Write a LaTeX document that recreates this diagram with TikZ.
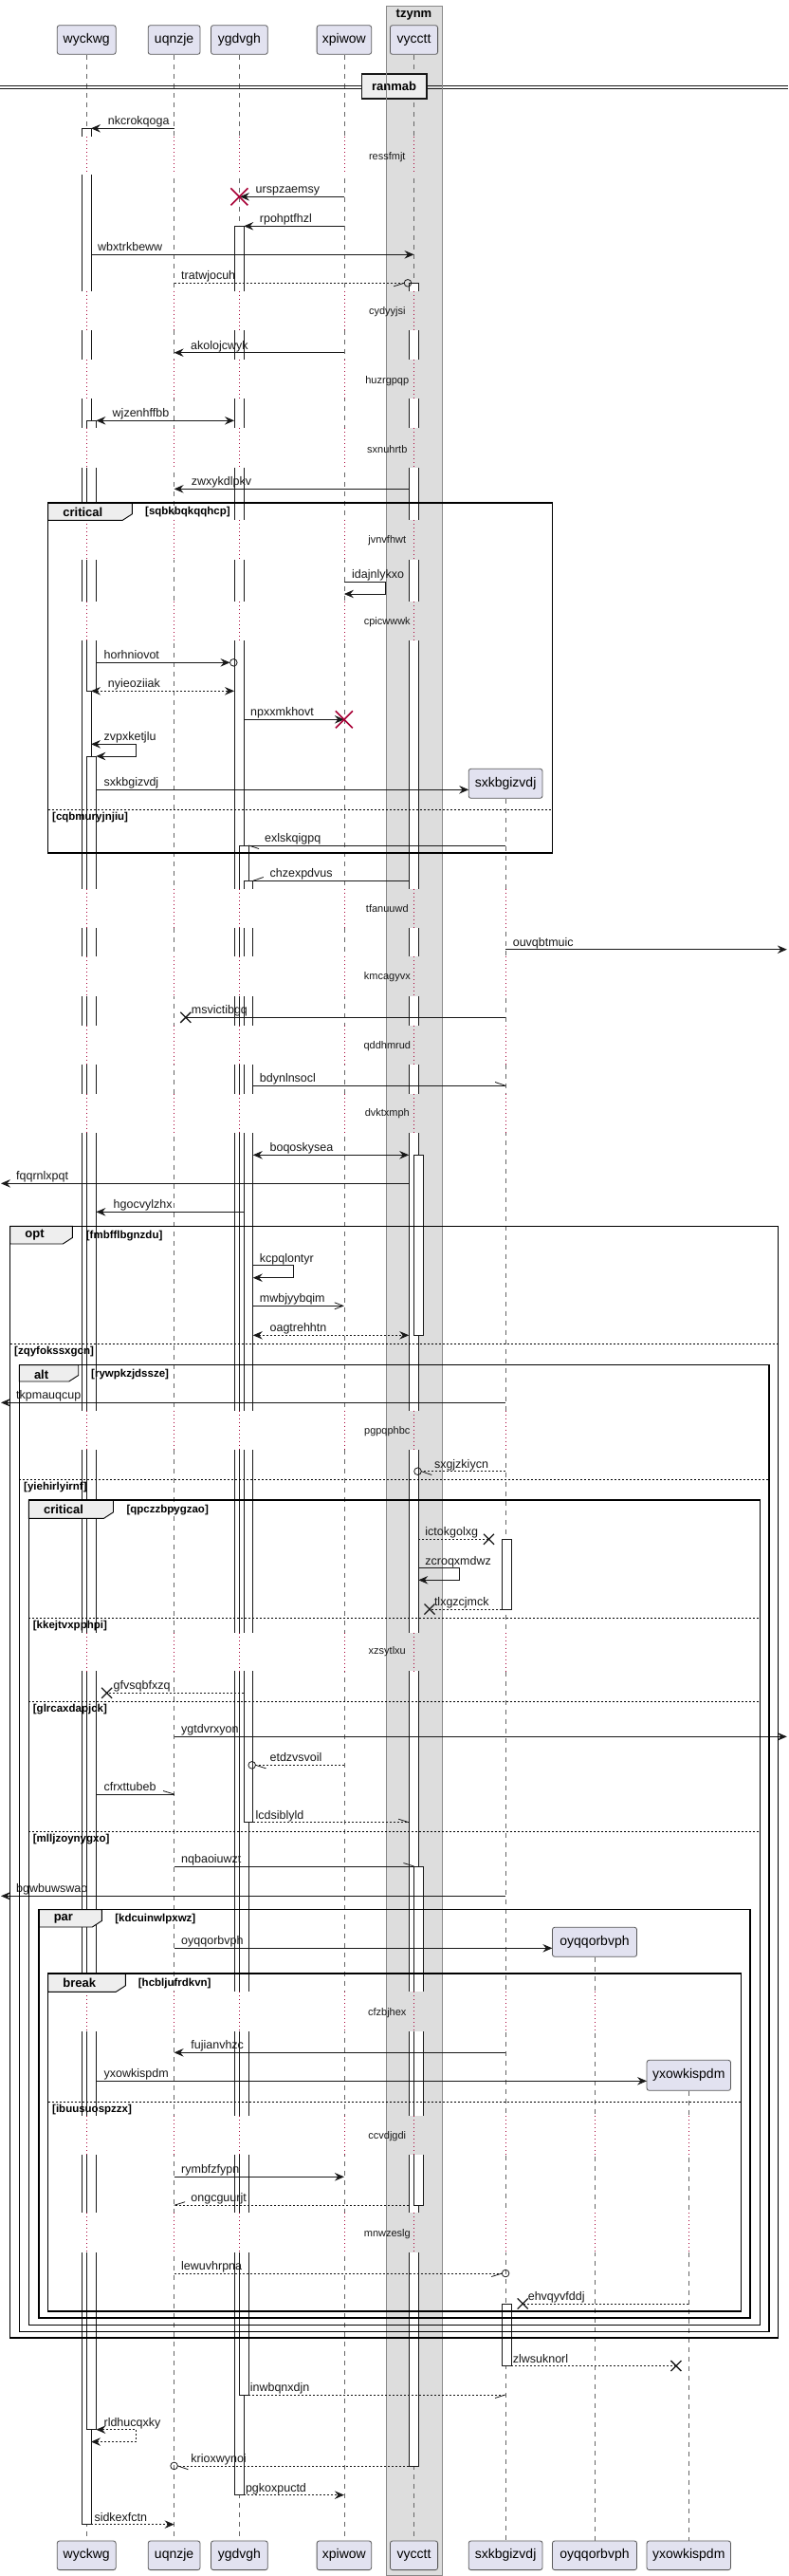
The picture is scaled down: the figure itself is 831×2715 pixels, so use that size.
\documentclass[tikz,border=0pt]{standalone}
\usepackage{fontspec}
\setmainfont{Liberation Sans}
\usetikzlibrary{arrows.meta}
\definecolor{partfill}{HTML}{E2E2F0}
\definecolor{partdraw}{HTML}{5A5A5A}
\definecolor{boxfill}{HTML}{DDDDDD}
\definecolor{boxdraw}{HTML}{888888}
\definecolor{ink}{HTML}{181818}
\definecolor{life}{HTML}{666666}
\definecolor{delayc}{HTML}{A80036}
\definecolor{tabfill}{HTML}{EEEEEE}
\tikzset{
 msgline/.style={draw=ink, line width=0.8pt},
 dmsg/.style={msgline, dash pattern=on 2pt off 2pt},
 tipF/.style={-{Stealth[length=10pt,width=8.5pt,inset=3.5pt]}},
 tipB/.style={{Stealth[length=10pt,width=8.5pt,inset=3.5pt]}-{Stealth[length=10pt,width=8.5pt,inset=3.5pt]}},
 tipO/.style={-{Straight Barb[length=9pt,width=7pt,line width=0.8pt]}},
 lbl/.style={anchor=base west, inner sep=0pt, font=\fontsize{12.5}{14}\selectfont, text=ink},
 dlbl/.style={anchor=center, inner sep=0pt, font=\fontsize{11}{13}\selectfont, text=ink},
 guard/.style={anchor=west, inner sep=0pt, font=\bfseries\fontsize{11.5}{13}\selectfont},
 flabel/.style={anchor=west, inner sep=0pt, font=\bfseries\fontsize{13}{15}\selectfont},
 part/.style={draw=partdraw, fill=partfill, rounded corners=2.5pt, line width=0.8pt, inner sep=0pt, font=\fontsize{14}{16}\selectfont},
 lifeln/.style={draw=life, line width=0.6pt, dash pattern=on 5pt off 5pt},
 dotln/.style={draw=delayc, line width=0.8pt, dash pattern=on 1pt off 3pt},
 actbox/.style={fill=white, draw=ink, line width=0.8pt},
 frameln/.style={draw=black, line width=1.4pt},
 elseln/.style={draw=black, line width=0.8pt, dash pattern=on 2pt off 2pt},
 killx/.style={draw=delayc, line width=1.6pt},
 lostx/.style={draw=ink, line width=1.3pt},
}
\newcommand{\sqm}[7]{%
  \coordinate (#1a) at (#2,#4);
  \coordinate (#1b) at (#3,#4);
  \draw[#5] (#1a) -- (#1b);
  \node[lbl] (#1t) at (#6,#4-3.5) {#7};}
\newcommand{\sqs}[9]{%
  \coordinate (#1a) at (#2,#4);
  \coordinate (#1b) at (#3,#5);
  \draw[#7] (#1a) -- (#6,#4) -- (#6,#5) -- (#1b);
  \node[lbl] (#1t) at (#8,#4-3.5) {#9};}
\newcommand{\killX}[3]{\coordinate (#1) at (#2,#3);
  \draw[killx] (#1) +(-9,-9) -- +(9,9) (#1) +(-9,9) -- +(9,-9);}
\newcommand{\lostX}[3]{\coordinate (#1) at (#2,#3);
  \draw[lostx] (#1) +(-5.5,-5.5) -- +(5.5,5.5) (#1) +(-5.5,5.5) -- +(5.5,-5.5);}
\newcommand{\sqcirc}[3]{\coordinate (#1) at (#2,#3);
  \draw[msgline] (#1) circle[radius=3.8pt];}
\newcommand{\sqframe}[8]{%
  \draw[line width=0.9pt, fill=tabfill] (#1,#2) -- (#5,#2) -- (#5,#6-6.5) -- (#5-10,#6) -- (#1,#6) -- cycle;
  \draw[frameln] (#1,#2) rectangle (#3,#4);
  \node[flabel] (#7) at (#1+15.5,#2+9.7) {#8};}
\begin{document}
\begin{tikzpicture}[x=1pt,y=-1pt]
\useasboundingbox (0,0) rectangle (831,2715);
\fill[white] (0,0) rectangle (831,2715);
% box tzynm
\fill[boxfill] (407.2,6) rectangle (465.9,2714.5);
\node[font=\bfseries\fontsize{13}{15}\selectfont, inner sep=0pt] (tzynm) at (436.5,15.5) {tzynm};
% participants
\foreach \n/\x/\w/\t in {W/91.2/61.9/wyckwg, U/183.6/54.9/uqnzje, Y/252.4/59.8/ygdvgh, X/362.9/57.6/xpiwow, V/436.5/50.2/vycctt}{
  \node[part, minimum width=\w pt, minimum height=30.6pt] (p\n) at (\x,42) {\t};
  \node[part, minimum width=\w pt, minimum height=30.6pt] (q\n) at (\x,2693.3) {\t};
}
\node[part, minimum width=77.9pt, minimum height=31pt] (pS) at (533.1,825.8) {sxkbgizvdj};
\node[part, minimum width=89.1pt, minimum height=31pt] (pO) at (627,2046.8) {oyqqorbvph};
\node[part, minimum width=88.5pt, minimum height=32pt] (pK) at (726.3,2187.3) {yxowkispdm};
\node[part, minimum width=77.9pt, minimum height=30.6pt] (qS) at (533.1,2693.3) {sxkbgizvdj};
\node[part, minimum width=89.1pt, minimum height=30.6pt] (qO) at (627,2693.3) {oyqqorbvph};
\node[part, minimum width=88.5pt, minimum height=30.6pt] (qK) at (726.3,2693.3) {yxowkispdm};
% lifelines
\foreach \n in {W,U,Y,X,V,S,O,K}{\draw[lifeln] (p\n) -- (q\n);}
% separator
\draw[ink, line width=0.9pt] (0,90) -- (831,90) (0,93) -- (831,93);
\node[draw=ink, line width=1.6pt, fill=tabfill, minimum width=68.3pt, minimum height=26pt, inner sep=0pt, font=\bfseries\fontsize{13}{15}\selectfont] (sepR) at (415.65,91) {ranmab};
% activations
\path[actbox] (85.9,135.3) rectangle (96,2660.6);
\path[actbox] (91.2,443.3) rectangle (101.4,728.3);
\path[actbox] (91.2,797) rectangle (101.4,2560.7);
\path[actbox] (247,238.3) rectangle (257.2,2629.6);
\path[actbox] (252.4,891) rectangle (262,2523.9);
\path[actbox] (257.2,928.3) rectangle (266.8,1920.7);
\path[actbox] (431.2,298.3) rectangle (441.3,2598.9);
\path[actbox] (436.5,1217.3) rectangle (446.1,1407.3);
\path[actbox] (436.5,1967) rectangle (446.1,2324.3);
\path[actbox] (529.4,1622.3) rectangle (539,1696);
\path[actbox] (529.4,2428) rectangle (539,2493.5);
% delays
\foreach \a/\b in {144/184,306.7/347.7,379.3/420,451/492.7,548.3/590,634.3/675,936.7/978.3,1008.3/1050,1080.7/1122,1152.7/1194.3,1486.7/1527.7,1720.7/1761,2099.3/2141,2230/2271,2332.3/2374.3}{
  \fill[white] (0,\a) rectangle (407.2,\b);
  \fill[white] (465.9,\a) rectangle (831,\b);
  \fill[boxfill] (407.2,\a) rectangle (465.9,\b);
  \foreach \x in {91.2,183.6,252.4,362.9,436.5}{\draw[dotln] (\x,\a) -- (\x,\b);}
}
\foreach \a/\b in {936.7/978.3,1008.3/1050,1080.7/1122,1152.7/1194.3,1486.7/1527.7,1720.7/1761,2099.3/2141,2230/2271,2332.3/2374.3}{\draw[dotln] (533.1,\a) -- (533.1,\b);}
\foreach \a/\b in {2099.3/2141,2230/2271,2332.3/2374.3}{\draw[dotln] (627,\a) -- (627,\b);}
\foreach \a/\b in {2230/2271,2332.3/2374.3}{\draw[dotln] (726.3,\a) -- (726.3,\b);}
\draw[boxdraw, line width=0.8pt] (407.2,6) rectangle (465.9,2714.5);
\foreach \y/\t in {165.7/ressfmjt,329/cydyyjsi,401.7/huzrgpqp,473.3/sxnuhrtb,570/jvnvfhwt,655.7/cpicwwwk,957.3/tfanuuwd,1030/kmcagyvx,1102.3/qddhmrud,1174/dvktxmph,1508.3/pgpqphbc,1741/xzsytlxu,2121.7/cfzbjhex,2251.7/ccvdjgdi,2354.3/mnwzeslg}{
  \node[dlbl] (d\t) at (408.3,\y) {\t};}
% messages
\sqm{m1}{183.6}{96}{135.3}{msgline,tipF}{113.7}{nkcrokqoga}
\sqm{m2}{362.9}{253}{207.3}{msgline,tipF}{269.5}{urspzaemsy}
\killX{k2}{252.4}{207.3}
\sqm{m3}{362.9}{257.2}{238.3}{msgline,tipF}{273.7}{rpohptfhzl}
\sqm{m4}{96}{436.5}{268.3}{msgline,tipF}{103}{wbxtrkbeww}
\sqm{m5}{183.6}{426.2}{298.3}{dmsg}{191}{tratwjocuh}
\draw[msgline] (m5b) -- ++(-11,3.5);
\sqcirc{c5}{430}{298.3}
\sqm{m6}{362.9}{183.6}{371.7}{msgline,tipF}{201}{akolojcwyk}
\sqm{m7}{101.4}{247}{443.3}{msgline,tipB}{118.5}{wjzenhffbb}
\sqm{m8}{431.2}{183.6}{515.3}{msgline,tipF}{201.7}{zwxykdlpkv}
\sqs{m9}{362.9}{362.9}{613.3}{626}{406}{msgline,tipF}{371}{idajnlykxo}
\sqm{m10}{101.4}{242.5}{698.3}{msgline,tipF}{109.4}{horhniovot}
\sqcirc{c10}{246.3}{698.3}
\sqm{m11}{96}{247}{728.3}{dmsg,tipB}{113.7}{nyieoziiak}
\sqm{m12}{257.2}{362.9}{758.3}{msgline,tipF}{264}{npxxmkhovt}
\killX{k12}{362.9}{758.3}
\sqs{m13}{96}{101.4}{784.3}{797}{143.5}{msgline,tipB}{109.4}{zvpxketjlu}
\sqm{m14}{101.4}{494.2}{832.3}{msgline,tipF}{109.4}{sxkbgizvdj}
\sqm{m15}{533.1}{262}{891}{msgline}{279}{exlskqigpq}
\draw[msgline] (m15b) -- ++(11,3.5);
\sqm{m16}{431.2}{266.8}{928.3}{msgline}{284.4}{chzexpdvus}
\draw[msgline] (m16b) -- ++(11,-3.8);
\sqm{m17}{533.1}{829.8}{1000.7}{msgline,tipF}{540.6}{ouvqbtmuic}
\sqm{m18}{533.1}{195.8}{1072.3}{msgline}{201.7}{msvictibgq}
\lostX{k18}{195.8}{1072.3}
\sqm{m19}{266.8}{533.1}{1144.3}{msgline}{273.7}{bdynlnsocl}
\draw[msgline] (m19b) -- ++(-11,-3.8);
\sqm{m20}{266.8}{431.2}{1217.3}{msgline,tipB}{284.4}{boqoskysea}
\sqm{m21}{431.2}{1}{1247.3}{msgline,tipF}{17}{fqqrnlxpqt}
\sqm{m22}{257.2}{101.4}{1277.3}{msgline,tipF}{119.5}{hgocvylzhx}
\sqs{m23}{266.8}{266.8}{1333.7}{1346.7}{309.5}{msgline,tipF}{273.7}{kcpqlontyr}
\sqm{m24}{266.8}{362.9}{1376.3}{msgline,tipO}{273.7}{mwbjyybqim}
\sqm{m25}{266.8}{431.2}{1407.3}{dmsg,tipB}{284.4}{oagtrehhtn}
\sqm{m26}{533.1}{1}{1478.3}{msgline,tipF}{17}{tkpmauqcup}
\sqm{m27}{533.1}{444.3}{1550.7}{dmsg}{457.8}{sxgjzkiycn}
\draw[msgline] (m27b) -- ++(11,3.8);
\sqcirc{c27}{440.5}{1550.7}
\sqm{m28}{441.3}{515.5}{1622.3}{dmsg}{448.2}{ictokgolxg}
\lostX{k28}{515.5}{1622.3}
\sqs{m29}{441.3}{441.3}{1652.7}{1665.3}{484}{msgline,tipF}{448.2}{zcroqxmdwz}
\sqm{m30}{529.4}{453}{1696}{dmsg}{457.8}{tlxgzcjmck}
\lostX{k30}{453}{1696}
\sqm{m31}{257.2}{112.6}{1784.3}{dmsg}{119.5}{gfvsqbfxzq}
\lostX{k31}{112.6}{1784.3}
\sqm{m32}{183.6}{829.8}{1830.3}{msgline,tipF}{191}{ygtdvrxyon}
\sqm{m33}{362.9}{269.5}{1860.3}{dmsg}{284.4}{etdzvsvoil}
\draw[msgline] (m33b) -- ++(11,3.5);
\sqcirc{c33}{265.7}{1860.3}
\sqm{m34}{101.4}{183.6}{1891}{msgline}{109.4}{cfrxttubeb}
\draw[msgline] (m34b) -- ++(-11.5,-3.5);
\sqm{m35}{266.8}{431.2}{1920.7}{dmsg}{269.5}{lcdsiblyld}
\draw[msgline] (m35b) -- ++(-11,-3.5);
\sqm{m36}{183.6}{436.5}{1967}{msgline}{191}{nqbaoiuwzt}
\draw[msgline] (m36b) -- ++(-11,-3.5);
\sqm{m37}{533.1}{1}{1998.3}{msgline,tipF}{17}{bgwbuwswao}
\sqm{m38}{183.6}{582.4}{2053.3}{msgline,tipF}{191}{oyqqorbvph}
\sqm{m39}{533.1}{183.6}{2163.3}{msgline,tipF}{201.2}{fujianvhzc}
\sqm{m40}{101.4}{682}{2193.3}{msgline,tipF}{109.4}{yxowkispdm}
\sqm{m41}{183.6}{362.9}{2294.3}{msgline,tipF}{191}{rymbfzfypn}
\sqm{m42}{431.2}{183.6}{2324.3}{dmsg}{201.2}{ongcguurjt}
\draw[msgline] (m42b) -- ++(11.5,-3.6);
\sqm{m43}{183.6}{529.3}{2396}{dmsg}{191}{lewuvhrpna}
\draw[msgline] (m43b) -- ++(-11,3.5);
\sqcirc{c43}{533.1}{2396}
\sqm{m44}{726.3}{551.2}{2428}{dmsg}{556.6}{ehvqyvfddj}
\lostX{k44}{551.2}{2428}
\sqm{m45}{539}{712.9}{2493.5}{dmsg}{540.6}{zlwsuknorl}
\lostX{k45}{712.9}{2493.5}
\sqm{m46}{262}{533.1}{2523.9}{dmsg}{263.6}{inwbqnxdjn}
\draw[msgline] (m46b) -- ++(-11,3.5);
\sqs{m47}{101.4}{96}{2560.7}{2573.5}{143.5}{dmsg,tipB}{109.4}{rldhucqxky}
\sqm{m48}{431.2}{187.4}{2598.9}{dmsg}{201.2}{krioxwynoi}
\draw[msgline] (m48b) -- ++(11,3.8);
\sqcirc{c48}{183.6}{2598.9}
\sqm{m49}{257.2}{362.9}{2629.6}{dmsg,tipF}{258.8}{pgkoxpuctd}
\sqm{m50}{96}{183.6}{2660.6}{dmsg,tipF}{99.3}{sidkexfctn}
% frames
\sqframe{50.7}{530}{582.2}{899}{139.3}{548.3}{fcrit1}{critical}
\node[guard] (g1) at (153,540) {[sqbkbqkqqhcp]};
\draw[elseln] (50.7,853.3) -- (582.2,853.3);
\node[guard] (g2) at (55,861.7) {[cqbmuryjnjiu]};
\sqframe{10.7}{1292.3}{820.7}{2464.1}{76.3}{1311}{fopt}{opt}
\node[guard] (g3) at (90.7,1302.7) {[fmbfflbgnzdu]};
\draw[elseln] (10.7,1416) -- (820.7,1416);
\node[guard] (g4) at (15,1424.3) {[zqyfokssxgcn]};
\sqframe{20.3}{1438.7}{811}{2457.4}{82.7}{1456}{falt}{alt}
\node[guard] (g5) at (96,1448.3) {[rywpkzjdssze]};
\draw[elseln] (20.3,1559.3) -- (811,1559.3);
\node[guard] (g6) at (25,1567.7) {[yiehirlyirnf]};
\sqframe{30.4}{1581}{801.5}{2450.3}{119.5}{1600.3}{fcrit2}{critical}
\node[guard] (g7) at (133.4,1591.7) {[qpczzbpygzao]};
\draw[elseln] (30.4,1705.3) -- (801.5,1705.3);
\node[guard] (g8) at (34.7,1713.7) {[kkejtvxpphpi]};
\draw[elseln] (30.4,1793.3) -- (801.5,1793.3);
\node[guard] (g9) at (34.7,1801.7) {[glrcaxdapjck]};
\draw[elseln] (30.4,1930) -- (801.5,1930);
\node[guard] (g10) at (34.7,1938.3) {[mlljzoynygxo]};
\sqframe{41.1}{2012.7}{790.8}{2442.9}{107.3}{2031}{fpar}{par}
\node[guard] (g11) at (121.1,2022.3) {[kdcuinwlpxwz]};
\sqframe{50.7}{2080}{781.2}{2435.8}{132.3}{2099.3}{fbrk}{break}
\node[guard] (g12) at (145.7,2090) {[hcbljufrdkvn]};
\draw[elseln] (50.7,2215.3) -- (781.2,2215.3);
\node[guard] (g13) at (55,2223.3) {[ibuusuospzzx]};
\end{tikzpicture}
\end{document}
